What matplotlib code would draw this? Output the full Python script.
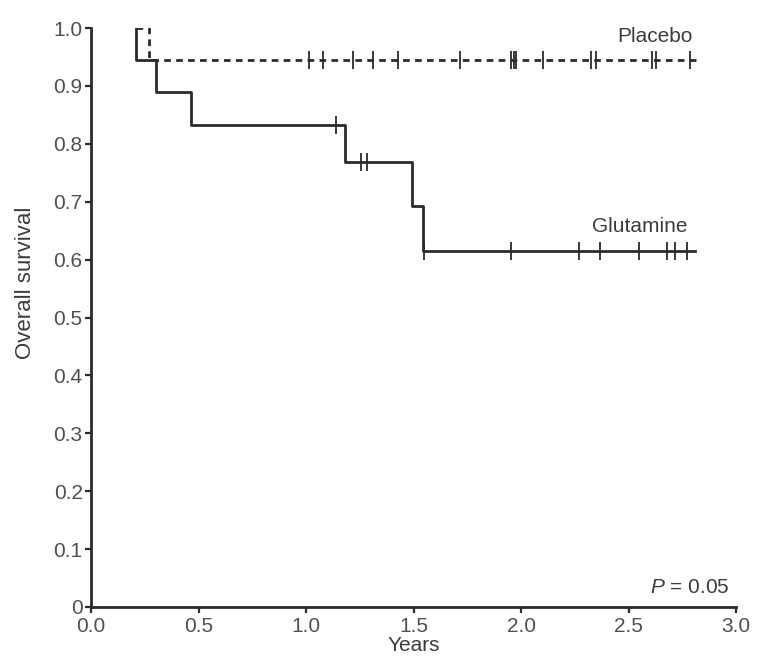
import numpy as np
import matplotlib
matplotlib.use("Agg")
import matplotlib.pyplot as plt

plt.rcParams['font.family'] = ['Liberation Sans', 'DejaVu Sans']
plt.rcParams['mathtext.fontset'] = 'custom'
plt.rcParams['mathtext.it'] = 'Liberation Sans:italic'
plt.rcParams['mathtext.rm'] = 'Liberation Sans'

# ---- data ----
start_time = 0.21
glut_event_times = [0.21, 0.301, 0.464, 1.182, 1.492, 1.546]
glut_surv = [0.944, 0.889, 0.833, 0.769, 0.692, 0.615]
glut_censor_times = [1.140, 1.256, 1.284, 1.551, 1.955, 2.270, 2.369, 2.549, 2.677, 2.715, 2.770]
glut_end = 2.809

plac_event_times = [0.270]
plac_surv = [0.944]
plac_censor_times = [1.015, 1.077, 1.217, 1.313, 1.427, 1.714, 1.955, 1.966, 1.978,
                     2.102, 2.327, 2.350, 2.607, 2.627, 2.785]
plac_end = 2.822

x_ticks = [0.0, 0.5, 1.0, 1.5, 2.0, 2.5, 3.0]
x_ticklabels = ['0.0', '0.5', '1.0', '1.5', '2.0', '2.5', '3.0']
y_ticks = [0.0, 0.1, 0.2, 0.3, 0.4, 0.5, 0.6, 0.7, 0.8, 0.9, 1.0]
y_ticklabels = ['0', '0.1', '0.2', '0.3', '0.4', '0.5', '0.6', '0.7', '0.8', '0.9', '1.0']

LINE = '#2b2b2b'
TEXT = '#3c3c3c'

fig = plt.figure(figsize=(7.57, 6.6), dpi=100)
ax = fig.add_axes([91/757, 53/660, (736-91)/757, (607-28)/660])


def km_curve(events, surv, end):
    t = [start_time] + list(events) + [end]
    s = [1.0] + list(surv) + [surv[-1]]
    return np.array(t), np.array(s)


def surv_at(t_arr, s_arr, times):
    idx = np.searchsorted(t_arr, times, side='right') - 1
    return s_arr[idx]


gt, gs = km_curve(glut_event_times, glut_surv, glut_end)
pt, ps = km_curve(plac_event_times, plac_surv, plac_end)

ax.step(pt, ps, where='post', color=LINE, lw=2.0, linestyle=(0, (2.4, 1.9)), zorder=3)
ax.step(gt, gs, where='post', color=LINE, lw=2.0, zorder=4)

ax.plot(plac_censor_times, surv_at(pt, ps, np.array(plac_censor_times)), linestyle='none',
        marker='|', markersize=13, markeredgewidth=1.3, color=LINE, zorder=5)
ax.plot(glut_censor_times, surv_at(gt, gs, np.array(glut_censor_times)), linestyle='none',
        marker='|', markersize=13, markeredgewidth=1.3, color=LINE, zorder=5)

ax.set_xlim(0, 3.0)
ax.set_ylim(0, 1.0)
ax.set_xticks(x_ticks)
ax.set_xticklabels(x_ticklabels)
ax.set_yticks(y_ticks)
ax.set_yticklabels(y_ticklabels)

for side in ['top', 'right']:
    ax.spines[side].set_visible(False)
for side in ['left', 'bottom']:
    ax.spines[side].set_linewidth(2.0)
    ax.spines[side].set_color(LINE)

ax.tick_params(axis='both', direction='out', length=4, width=1.6, color=LINE,
               labelsize=15, labelcolor='#505050')
ax.tick_params(axis='x', pad=3)
ax.tick_params(axis='y', pad=2)

ax.set_xlabel('Years', fontsize=15, color=TEXT, labelpad=0)
ax.set_ylabel('Overall survival', fontsize=16, color=TEXT)
ax.yaxis.set_label_coords(-0.086, 0.56)

ax.text(2.80, 0.986, 'Placebo', ha='right', va='center', fontsize=15, color=TEXT)
ax.text(2.776, 0.658, 'Glutamine', ha='right', va='center', fontsize=15, color=TEXT)
ax.text(2.97, 0.033, r'$\it{P}$ = 0.05', ha='right', va='center', fontsize=15, color=TEXT)

fig.savefig('out.png', dpi=100, facecolor='white')
